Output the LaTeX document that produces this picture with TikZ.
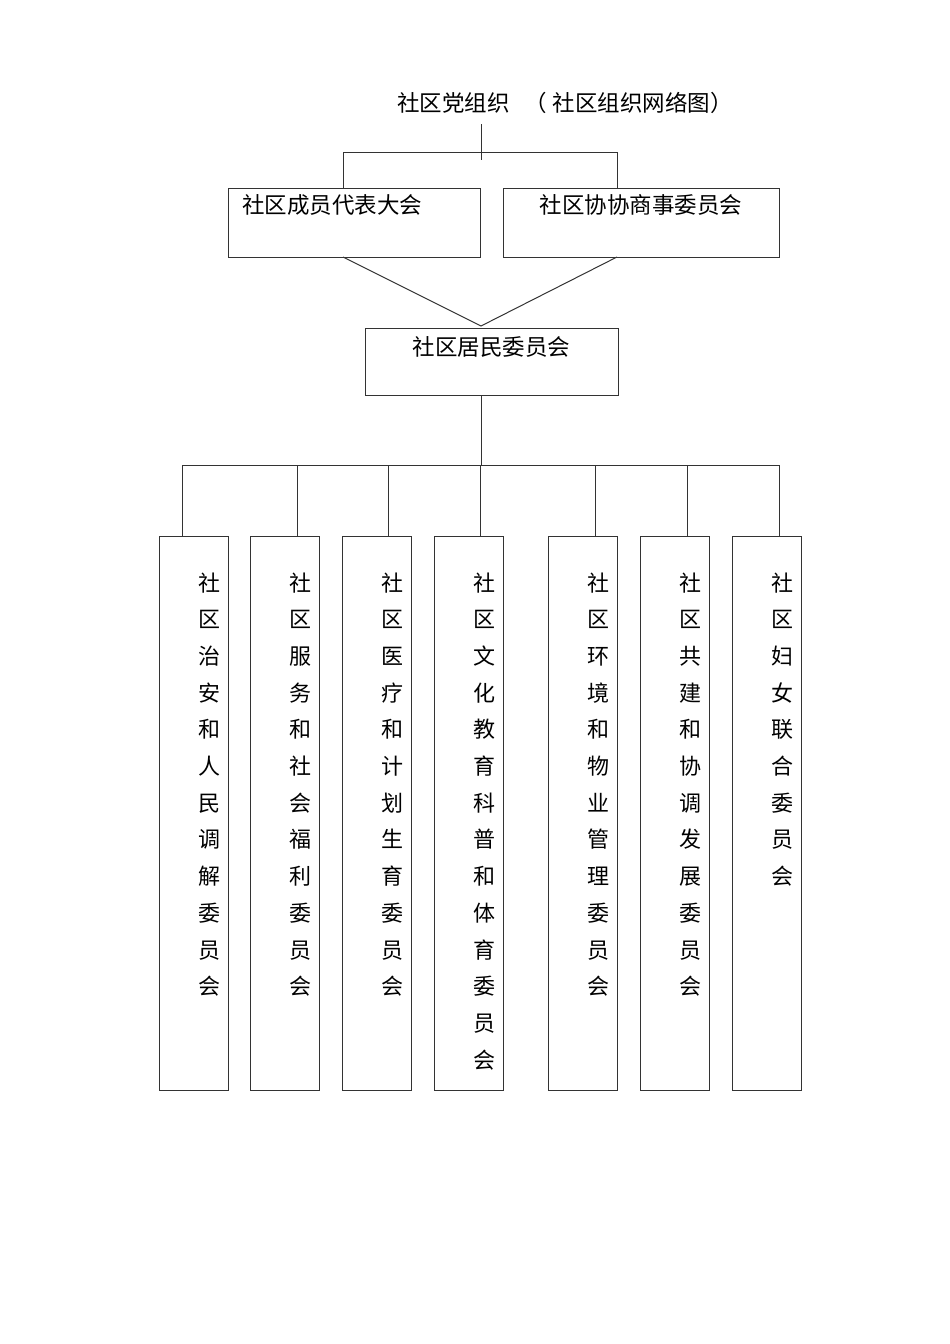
\documentclass[tikz,border=0pt]{standalone}
\usepackage{fontspec}
\setmainfont{Noto Sans CJK SC}
\usetikzlibrary{positioning, calc}
\tikzset{
  conn/.style={draw=black!80, line width=1pt},
  frame/.style={draw=black!80, line width=1pt, rectangle, inner sep=0pt, outer sep=0pt},
  txt/.style={inner sep=0pt, outer sep=0pt, font=\fontsize{22.5}{22.5}\selectfont}
}

\begin{document}
\begin{tikzpicture}[x=1pt, y=-1pt]
  \tikzset{vtxt/.style={txt, align=center, font=\fontsize{22}{36.7}\selectfont}};
  \tikzset{tall/.style={frame, minimum width=69pt, minimum height=554pt}};
  \useasboundingbox (0,0) rectangle (950,1344);

  \node[txt, anchor=north west] (party) at (397,92) {社区党组织\hspace{15pt}（\hspace{6pt}社区组织网络图）};

  \node[frame, minimum width=252pt, minimum height=69pt, anchor=north west] (congress) at (228,188) {};
  \node[frame, minimum width=276pt, minimum height=69pt, anchor=north west] (consult) at (503,188) {};
  \node[frame, minimum width=253pt, minimum height=67pt, anchor=north west] (residents) at (365,328) {};
  \node[txt, anchor=north west] (congresstxt) at ([xshift=14pt, yshift=-7pt]congress.north west) {社区成员代表大会};
  \node[txt, anchor=north] (consulttxt) at ([yshift=-7pt]consult.north) {社区协协商事委员会};
  \node[txt, anchor=north] (residentstxt) at ([yshift=-8.5pt]residents.north) {社区居民委员会};

  \coordinate (split) at (481,160);
  \coordinate (bl) at (343,152);
  \coordinate (br) at (617,152);
  \coordinate (apex) at (481,326);
  \coordinate (bus) at (481,465);

  \draw[conn] ([yshift=-11pt]party.south -| split) -- (split);
  \draw[conn] (bl) -- (br);
  \draw[conn] (bl) -- (bl |- congress.north);
  \draw[conn] (br) -- (br |- consult.north);
  \draw[conn] (bl |- congress.south) -- (apex) -- (br |- consult.south);
  \draw[conn] (apex |- residents.south) -- (bus);

  \foreach \i/\x/\d/\t in {
    1/159/182/{社\\区\\治\\安\\和\\人\\民\\调\\解\\委\\员\\会},
    2/250/297/{社\\区\\服\\务\\和\\社\\会\\福\\利\\委\\员\\会},
    3/342/388/{社\\区\\医\\疗\\和\\计\\划\\生\\育\\委\\员\\会},
    4/434/480/{社\\区\\文\\化\\教\\育\\科\\普\\和\\体\\育\\委\\员\\会},
    5/548/595/{社\\区\\环\\境\\和\\物\\业\\管\\理\\委\\员\\会},
    6/640/687/{社\\区\\共\\建\\和\\协\\调\\发\\展\\委\\员\\会},
    7/732/779/{社\\区\\妇\\女\\联\\合\\委\\员\\会}} {
    \node[tall, anchor=north west] (com\i) at (\x,536) {};
    \node[vtxt, anchor=north] (com\i txt) at ([xshift=50.5pt, yshift=-36.5pt]com\i.north west) {\t};
    \coordinate (drop\i) at (\d,465);
    \draw[conn] (drop\i) -- (drop\i |- com\i.north);
  }
  \draw[conn] (drop1) -- (drop7);
\end{tikzpicture}
\end{document}
